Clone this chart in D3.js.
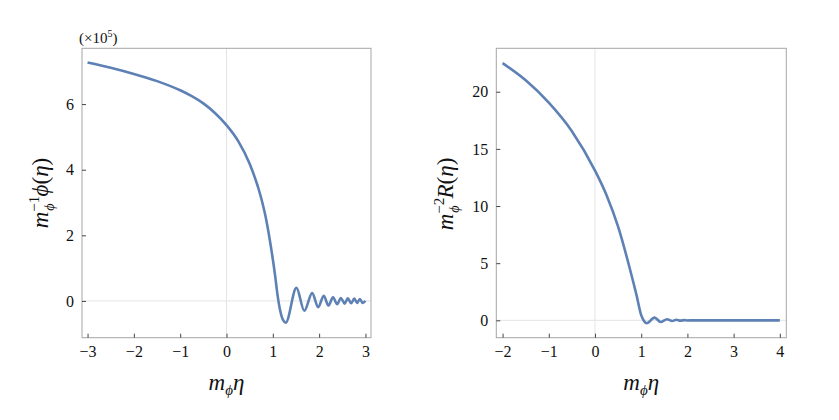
<!DOCTYPE html>
<html>
<head>
<meta charset="utf-8">
<script src="https://cdn.jsdelivr.net/npm/d3@7"></script>
<style>
  body { margin: 0; background: #fff; }
</style>
</head>
<body>
<script>
var w = 839;
var h = 420;
var serif = "'Liberation Serif', 'Times New Roman', 'DejaVu Serif', serif";

// left panel: m^-1 phi(eta), in units of 1e5
var phiEta = [-3, -2.5, -2, -1.5, -1, -0.75, -0.5, -0.25, 0, 0.25, 0.5, 0.75, 0.85, 0.95, 1.05, 1.10, 1.16, 1.22,
              1.28, 1.51, 1.68, 1.85, 1.98, 2.10, 2.20, 2.30, 2.39, 2.47, 2.55, 2.62, 2.69, 2.76, 2.82, 2.88, 2.94, 3.0];
var phiVal = [7.27, 7.11, 6.92, 6.70, 6.42, 6.24, 6.02, 5.73, 5.36, 4.88, 4.18, 3.13, 2.53, 1.73, 0.77, 0.20, -0.30, -0.58,
              -0.66, 0.40, -0.30, 0.24, -0.19, 0.16, -0.14, 0.11, -0.10, 0.09, -0.08, 0.08, -0.07, 0.07, -0.06, 0.06, -0.06, 0.0];
var phiXTicks = [-3, -2, -1, 0, 1, 2, 3];
var phiYTicks = [0, 2, 4, 6];

// right panel: m^-2 R(eta)
var rEta = [-2, -1.5, -1, -0.5, 0, 0.25, 0.5, 0.75, 0.9, 1.0, 1.06, 1.12, 1.29, 1.42, 1.56, 1.67, 1.76, 1.85, 1.93, 2.0, 2.1, 3.0, 4.0];
var rVal = [22.5, 21.0, 19.05, 16.55, 13.1, 10.95, 8.2, 4.58, 2.18, 0.45, -0.05, -0.26, 0.24, -0.14, 0.10, -0.06, 0.05, -0.03, 0.02, -0.01, 0, 0, 0];
var rXTicks = [-2, -1, 0, 1, 2, 3, 4];
var rYTicks = [0, 5, 10, 15, 20];

var svg = d3.select("body")
            .append("svg")
            .attr("width", w)
            .attr("height", h);

function panel(opt) {
  var xScale = d3.scaleLinear().domain(opt.xDomain).range([opt.left, opt.right]);
  var yScale = d3.scaleLinear().domain(opt.yDomain).range([opt.bottom, opt.top]);
  var g = svg.append("g");

  // zero lines
  g.append("line")
    .attr("x1", xScale(0)).attr("x2", xScale(0))
    .attr("y1", opt.top).attr("y2", opt.bottom)
    .attr("stroke", "#e4e4e4").attr("stroke-width", 1);
  g.append("line")
    .attr("x1", opt.left).attr("x2", opt.right)
    .attr("y1", yScale(0)).attr("y2", yScale(0))
    .attr("stroke", "#e4e4e4").attr("stroke-width", 1);

  // frame
  g.append("rect")
    .attr("x", opt.left).attr("y", opt.top)
    .attr("width", opt.right - opt.left).attr("height", opt.bottom - opt.top)
    .attr("fill", "none").attr("stroke", "#a6a6a6").attr("stroke-width", 1);

  //Define X,Y axis (ticks pointing inward)
  var xAxis = d3.axisBottom(xScale).tickValues(opt.xTicks).tickFormat(d3.format("d")).tickSize(-4).tickPadding(8);
  var yAxis = d3.axisLeft(yScale).tickValues(opt.yTicks).tickFormat(d3.format("d")).tickSize(-4).tickPadding(8);

  var gx = g.append("g")
    .attr("transform", "translate(0," + opt.bottom + ")")
    .call(xAxis);
  var gy = g.append("g")
    .attr("transform", "translate(" + opt.left + ",0)")
    .call(yAxis);
  [gx, gy].forEach(function(a) {
    a.attr("font-family", serif);
    a.select(".domain").remove();
    a.selectAll("line").attr("stroke", "#444");
    a.selectAll("text").attr("fill", "#111").attr("font-size", 16);
  });

  var line = d3.line()
    .x(function(d) { return xScale(d[0]); })
    .y(function(d) { return yScale(d[1]); })
    .curve(d3.curveMonotoneX);

  g.append("path")
    .datum(d3.zip(opt.xs, opt.ys))
    .attr("d", line)
    .attr("fill", "none")
    .attr("stroke", "#5e81b5")
    .attr("stroke-width", 2.6)
    .attr("stroke-linejoin", "round");

  // x label: m_phi eta
  var xl = g.append("text")
    .attr("x", (xScale(opt.xTicks[0]) + xScale(opt.xTicks[opt.xTicks.length - 1])) / 2)
    .attr("y", 390)
    .attr("text-anchor", "middle")
    .attr("font-family", serif)
    .attr("font-size", 23)
    .attr("font-style", "italic")
    .attr("fill", "#111");
  xl.append("tspan").text("m");
  xl.append("tspan").attr("dy", 5).attr("font-size", 15).text("\u03d5");
  xl.append("tspan").attr("dy", -5).text("\u03b7");

  // y label
  var yl = g.append("text")
    .attr("transform", "translate(" + opt.ylx + "," + opt.yly + ") rotate(-90)")
    .attr("text-anchor", "middle")
    .attr("font-family", serif)
    .attr("font-size", 23)
    .attr("fill", "#111");
  yl.append("tspan").attr("font-style", "italic").text("m");
  yl.append("tspan").attr("dy", -9).attr("font-size", 15).text("\u2212" + opt.pow);
  yl.append("tspan").attr("dx", -15).attr("dy", 15).attr("font-size", 14).attr("font-style", "italic").text("\u03d5");
  yl.append("tspan").attr("dx", 7).attr("dy", -6).attr("font-style", "italic").text(opt.sym);
  yl.append("tspan").text("(");
  yl.append("tspan").attr("font-style", "italic").text("\u03b7");
  yl.append("tspan").text(")");
}

panel({
  left: 82, right: 371, top: 48.3, bottom: 337.7,
  xDomain: [-3.12, 3.12], yDomain: [-1.12, 7.70],
  xTicks: phiXTicks, yTicks: phiYTicks,
  xs: phiEta, ys: phiVal,
  ylx: 48, yly: 193, pow: "1", sym: "\u03d5"
});

panel({
  left: 496.3, right: 786.3, top: 48.3, bottom: 337.7,
  xDomain: [-2.136, 4.14], yDomain: [-1.52, 23.8],
  xTicks: rXTicks, yTicks: rYTicks,
  xs: rEta, ys: rVal,
  ylx: 453, yly: 194, pow: "2", sym: "R"
});

// exponent label on the left panel
var ex = svg.append("text")
  .attr("x", 79).attr("y", 43)
  .attr("font-family", serif)
  .attr("font-size", 15)
  .attr("fill", "#111");
ex.append("tspan").text("(\u00d710");
ex.append("tspan").attr("dy", -6).attr("font-size", 10).text("5");
ex.append("tspan").attr("dy", 6).text(")");
</script>
</body>
</html>
